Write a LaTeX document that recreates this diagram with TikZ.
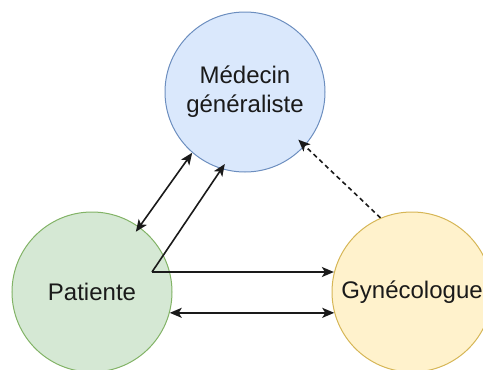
\documentclass[tikz,border=0pt]{standalone}
\usepackage{fontspec}
\setmainfont{Liberation Sans}
\usetikzlibrary{arrows.meta}
\definecolor{bfill}{HTML}{DAE8FC}\definecolor{bdraw}{HTML}{6C8EBF}
\definecolor{gfill}{HTML}{D5E8D4}\definecolor{gdraw}{HTML}{82B366}
\definecolor{yfill}{HTML}{FFF2CC}\definecolor{ydraw}{HTML}{D6B656}
\definecolor{ink}{HTML}{1A1A1A}
\tikzset{
  actor/.style={circle, minimum size=160pt, inner sep=0pt, line width=1pt, align=center,
    text=ink, font=\fontsize{24}{29}\selectfont},
  tip/.style={Stealth[length=12pt,width=10pt,inset=3pt]},
  conn/.style={draw=ink, line width=1.6pt, -{Stealth[length=12pt,width=10pt,inset=3pt]}},
  dconn/.style={draw=ink, line width=1.6pt, {Stealth[length=12pt,width=10pt,inset=3pt]}-{Stealth[length=12pt,width=10pt,inset=3pt]}}
}
\begin{document}
\begin{tikzpicture}[x=1pt,y=-1pt]
\useasboundingbox (0,0) rectangle (483,370);
\begin{scope}
\clip (0,0) rectangle (483,370);
\node[actor, fill=bfill, draw=bdraw] (med) at (245,92) {Médecin\\généraliste};
\node[actor, fill=gfill, draw=gdraw] (pat) at (92,292) {Patiente};
\node[actor, fill=yfill, draw=ydraw] (gyn) at (412,292) {Gynécologue};
\end{scope}
\coordinate (s) at (152,272);
\draw[dconn, shorten <=-6pt] (pat.54.5) -- (med.229);
\draw[conn, shorten >=-6pt] (s) -- (med.253);
\draw[conn] (s) -- (s -| gyn.166);
\draw[dconn] (pat.-15) -- (gyn.195);
\draw[conn, dashed, dash pattern=on 4.5pt off 3.5pt, shorten >=-9pt] (gyn.113) -- (med.318);
\end{tikzpicture}
\end{document}
